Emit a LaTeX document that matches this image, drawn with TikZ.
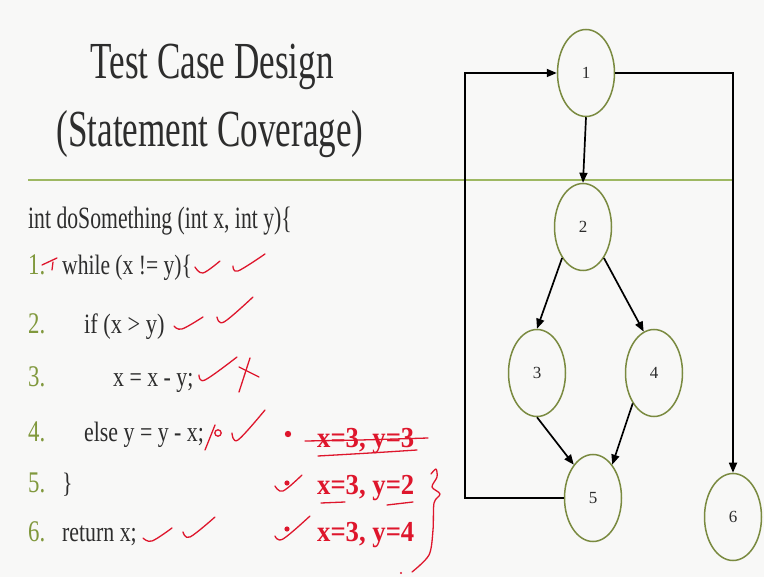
\documentclass[tikz,border=0pt]{standalone}
\usepackage{fontspec}
\setmainfont{Liberation Serif}
\usetikzlibrary{shapes.geometric,arrows.meta}

\definecolor{paper}{RGB}{248,248,247}
\definecolor{ink}{RGB}{45,45,45}
\definecolor{olive}{RGB}{128,152,60}
\definecolor{rule}{RGB}{158,184,98}
\definecolor{ring}{RGB}{122,138,64}
\definecolor{pen}{RGB}{222,22,44}

% horizontally condensed text
\newcommand{\cond}[2]{\scalebox{#1}[1]{#2}}

\begin{document}
\begin{tikzpicture}[x=1pt,y=-1pt,
  title/.style={text=ink,inner sep=0pt,anchor=base,font=\fontsize{52}{52}\selectfont},
  codeline/.style={text=ink,inner sep=0pt,anchor=base west,font=\fontsize{28}{28}\selectfont},
  lineno/.style={text=olive,inner sep=0pt,anchor=base west,font=\fontsize{30}{30}\selectfont},
  flownode/.style={ellipse,draw=ring,line width=1.5pt,fill=paper,minimum width=57pt,minimum height=87pt,inner sep=0pt,text=ink,font=\fontsize{17}{17}\selectfont},
  flow/.style={draw=black,line width=1.7pt,-{Triangle[length=10pt,width=8pt]}},
  redink/.style={draw=pen,line width=1.3pt,line cap=round,line join=round},
  redtext/.style={text=pen,inner sep=0pt,anchor=base west,font=\bfseries\fontsize{29}{29}\selectfont}]

% page
\fill[paper] (0,0) rectangle (764,577);
\useasboundingbox (0,0) rectangle (764,577);

% heading
\node[title] (t1) at (212,79) {\cond{0.675}{Test Case Design}};
\node[title] (t2) at (210,147) {\cond{0.675}{(Statement Coverage)}};
\draw[rule,line width=2pt] (28,180) -- (733,180);

% program listing
\node[codeline,font=\fontsize{31}{31}\selectfont] (hd) at (28,229) {\cond{0.70}{int doSomething (int x, int y)\{}};
\node[lineno] (n1l) at (28,275) {\cond{0.76}{1.}};
\node[codeline] (c1) at (62,275) {\cond{0.77}{while (x != y)\{}};
\node[lineno] (n2l) at (28,334) {\cond{0.76}{2.}};
\node[codeline] (c2) at (84,334) {\cond{0.80}{if (x > y)}};
\node[lineno] (n3l) at (28,387) {\cond{0.76}{3.}};
\node[codeline] (c3) at (113,387) {\cond{0.78}{x = x - y;}};
\node[lineno] (n4l) at (28,442) {\cond{0.76}{4.}};
\node[codeline] (c4) at (84,442) {\cond{0.78}{else y = y - x;}};
\node[lineno] (n5l) at (28,493) {\cond{0.76}{5.}};
\node[codeline] (c5) at (62,493) {\cond{0.78}{\}}};
\node[lineno] (n6l) at (28,542) {\cond{0.76}{6.}};
\node[codeline] (c6) at (62,542) {\cond{0.78}{return x;}};

% control flow graph
\node[flownode] (v1) at (586,73) {1};
\node[flownode] (v2) at (583,227) {2};
\node[flownode] (v3) at (537,373) {3};
\node[flownode] (v4) at (654,373) {4};
\node[flownode] (v5) at (593,498) {5};
\node[flownode] (v6) at (733,517) {6};

\coordinate (lb) at (465,498);
\coordinate (lt) at (465,73);
\coordinate (rt) at (733,73);

\draw[flow] (v1.south) -- (v2.north);
\draw[flow] (v2.236) -- (v3.north);
\draw[flow] (v2.304) -- (v4.104);
\draw[flow] (v3.south) -- (v5.120);
\draw[flow] (v4.235) -- (v5.60);
\draw[flow] (v5.west) -- (lb) -- (lt) -- (v1.west);
\draw[flow] (v1.east) -- (rt) -- (v6.north);

% hand-written marks on the listing
\draw[redink] (42,265) -- (57,258);
\draw[redink] (53,262) -- (52,270);
\draw[redink] plot[smooth,tension=0.6] coordinates {(195,267) (203,273) (220,261)};
\draw[redink] plot[smooth,tension=0.6] coordinates {(233,266) (238,271) (265,254)};
\draw[redink] plot[smooth,tension=0.6] coordinates {(174,326) (182,329) (203,317)};
\draw[redink] plot[smooth,tension=0.6] coordinates {(217,317) (224,322) (253,297)};
\draw[redink] plot[smooth,tension=0.6] coordinates {(199,375) (205,380) (237,357)};
\draw[redink] (239,367) -- (259,377);
\draw[redink] (250,358) -- (239,392);
\draw[redink] (205,450) -- (215,425);
\draw[redink] (218,433) circle[radius=3.2];
\draw[redink] plot[smooth,tension=0.6] coordinates {(232,433) (238,440) (265,410)};
\draw[redink] plot[smooth,tension=0.6] coordinates {(143,538) (152,541) (172,528)};
\draw[redink] plot[smooth,tension=0.6] coordinates {(183,532) (190,537) (215,517)};

% hand-written test inputs
\fill[pen] (288,434) circle[radius=3.2];
\node[redtext] (in1) at (317,448) {\cond{0.92}{x=3, y=3}};
\draw[redink] plot[smooth,tension=0.5] coordinates {(305,441) (360,440) (428,438)};
\draw[redink] plot[smooth,tension=0.6] coordinates {(318,456) (370,453) (417,450)};

\draw[redink] plot[smooth,tension=0.6] coordinates {(275,486) (283,491) (302,475)};
\fill[pen] (287,483) circle[radius=2.6];
\node[redtext] (in2) at (317,495) {\cond{0.92}{x=3, y=2}};
\draw[redink] (321,503) -- (345,502);
\draw[redink] (387,505) -- (413,502);

\draw[redink] plot[smooth,tension=0.6] coordinates {(275,536) (283,539) (310,516)};
\fill[pen] (287,529) circle[radius=2.6];
\node[redtext] (in3) at (317,541) {\cond{0.92}{x=3, y=4}};

\draw[redink] plot[smooth,tension=0.5] coordinates {(431,474) (436,469) (437,477) (432,487) (440,494) (434,503) (433,530) (429,555) (412,572)};
\fill[pen] (401,573) circle[radius=1.2];
\end{tikzpicture}
\end{document}
